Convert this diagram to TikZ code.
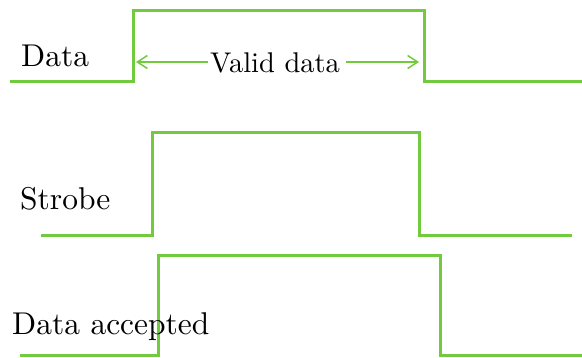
\documentclass[tikz,border=0pt]{standalone}
\usepackage{fontspec}
\usetikzlibrary{arrows.meta}
\newfontfamily\labfont{lmroman10-regular.otf}
\definecolor{wave}{RGB}{114,202,62}
\begin{document}
\begin{tikzpicture}[x=1pt,y=-1pt,
  signal/.style={draw=wave,line width=3pt,line join=miter},
  span/.style={draw=wave,line width=1.4pt,-{Straight Barb[length=10pt,width=13pt,line width=1.5pt]}},
  label/.style={inner sep=0pt,font=\labfont\fontsize{31.5}{38}\selectfont,text=black}]
\useasboundingbox (0,0) rectangle (582,358);

% Data line
\coordinate (d0) at (10,82);
\coordinate (d1) at (133,82);
\coordinate (d2) at (133,11);
\coordinate (d3) at (424,11);
\coordinate (d4) at (424,82);
\coordinate (d5) at (582,82);
\draw[signal] (d0) -- (d1) -- (d2) -- (d3) -- (d4) -- (d5);

% Strobe line
\coordinate (s0) at (41,236);
\coordinate (s1) at (152,236);
\coordinate (s2) at (152,133);
\coordinate (s3) at (419,133);
\coordinate (s4) at (419,236);
\coordinate (s5) at (572,236);
\draw[signal] (s0) -- (s1) -- (s2) -- (s3) -- (s4) -- (s5);

% Data accepted line
\coordinate (a0) at (20,356);
\coordinate (a1) at (158,356);
\coordinate (a2) at (158,256);
\coordinate (a3) at (440,256);
\coordinate (a4) at (440,356);
\coordinate (a5) at (582,356);
\draw[signal] (a0) -- (a1) -- (a2) -- (a3) -- (a4) -- (a5);

% Signal names
\node[label,anchor=base west] (ldata) at (21,67) {Data};
\node[label,anchor=base west] (lstrobe) at (20,210) {Strobe};
\node[label,anchor=base west] (lacc) at (12,335) {Data accepted};

% Valid data span
\coordinate (vl) at (136,62);
\coordinate (vr) at (419,62);
\node[label,font=\labfont\fontsize{28.5}{34}\selectfont,anchor=base] (vd) at (275,73) {Valid data};
\draw[span] ([xshift=-2pt]vd.west |- vl) -- (vl);
\draw[span] ([xshift=6pt]vd.east |- vr) -- (vr);
\end{tikzpicture}
\end{document}
